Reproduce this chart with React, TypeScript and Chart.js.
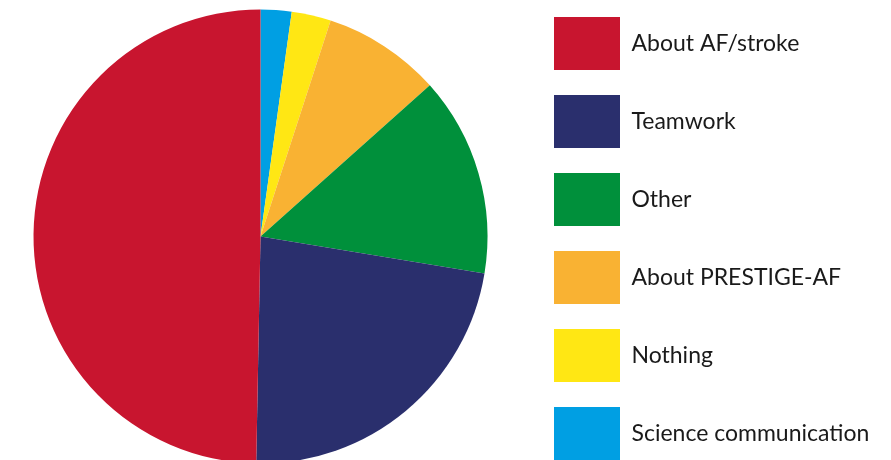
import React, { useEffect, useRef } from "react";
import { Chart, registerables } from "chart.js";

Chart.register(...registerables);

// Slices listed clockwise from 12 o'clock; legend shows them reversed.
const categories = [
  "Science communication",
  "Nothing",
  "About PRESTIGE-AF",
  "Other",
  "Teamwork",
  "About AF/stroke",
];
const shares = [2.2, 2.8, 8.4, 14.2, 22.7, 49.7];
const colors = ["#009FE3", "#FFE714", "#F9B233", "#00903B", "#2A2F6D", "#C8152F"];

const FONT_SIZE = 23;
const FONT_FAMILY = "Lato";
const BOX_W = 66;
const BOX_H = 53;
const LEG_PAD = 25;
const CANVAS_W = 899;
const CANVAS_H = 497;
const LEGEND_LEFT = 537; // canvas x where the legend block starts

export default function App() {
  const ref = useRef<HTMLCanvasElement>(null);

  useEffect(() => {
    // measure the widest label so the legend sits at a fixed x
    const mctx = document.createElement("canvas").getContext("2d")!;
    mctx.font = `${FONT_SIZE}px ${FONT_FAMILY}`;
    const maxText = Math.max(...categories.map((c) => mctx.measureText(c).width));
    const legendWidth = LEG_PAD + BOX_W + FONT_SIZE / 2 + maxText + 10;
    const padRight = Math.max(0, CANVAS_W - LEGEND_LEFT - legendWidth);

    const chart = new Chart(ref.current!, {
      type: "pie",
      data: {
        labels: categories,
        datasets: [
          {
            data: shares,
            backgroundColor: colors,
            borderWidth: 0,
            radius: 227,
          } as any,
        ],
      },
      options: {
        responsive: false,
        animation: false,
        devicePixelRatio: 1,
        layout: { padding: { left: 0, top: 0, bottom: 0, right: padRight } },
        plugins: {
          legend: {
            position: "right",
            align: "end",
            reverse: true,
            labels: {
              boxWidth: BOX_W,
              boxHeight: BOX_H,
              padding: LEG_PAD,
              color: "#1a1a1a",
              font: { family: FONT_FAMILY, size: FONT_SIZE },
            },
          },
          tooltip: { enabled: false },
        },
      },
    });
    return () => chart.destroy();
  }, []);

  return (
    <div
      style={{
        position: "absolute",
        left: 0,
        top: 0,
        width: 891,
        height: 460,
        overflow: "hidden",
        background: "#fff",
      }}
    >
      <canvas
        ref={ref}
        width={CANVAS_W}
        height={CANVAS_H}
        style={{ position: "absolute", left: -8, top: -12 }}
      />
    </div>
  );
}
